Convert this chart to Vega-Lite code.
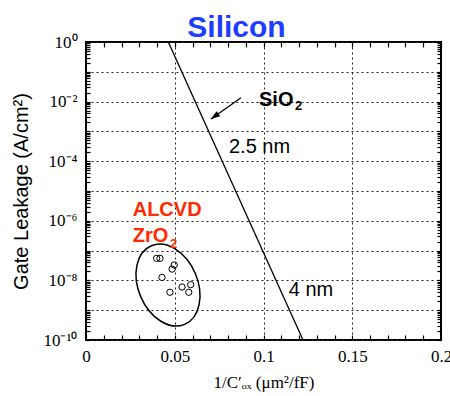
{
  "$schema": "https://vega.github.io/schema/vega-lite/v6.json",
  "width": 355,
  "height": 298,
  "autosize": "none",
  "padding": {"left": 86, "top": 42, "right": 9, "bottom": 56},
  "background": "white",
  "config": {"view": {"stroke": "#000", "strokeWidth": 2}},
  "title": {"text": "Silicon", "font": "Liberation Sans", "fontSize": 30, "fontWeight": "bold", "color": "#1f3dff", "anchor": "middle", "dx": -27, "offset": -10},
  "datasets": {
    "sio2": [{"x": 0.04637, "y": 1}, {"x": 0.12225, "y": 1e-10}],
    "zro2": [
      {"x": 0.0398, "y": 5.5e-8}, {"x": 0.0417, "y": 5.5e-8}, {"x": 0.0497, "y": 3.3e-8},
      {"x": 0.0485, "y": 2.4e-8}, {"x": 0.0428, "y": 1.26e-8}, {"x": 0.0473, "y": 4e-9},
      {"x": 0.0541, "y": 6e-9}, {"x": 0.059, "y": 7.2e-9}, {"x": 0.0579, "y": 4e-9}
    ],
    "ellipse": [{"x": 0.0462, "y": 7e-9}],
    "arrow": [{"x": 0.0873, "y": 1.35e-2, "x2": 0.0704, "y2": 2.6e-3}],
    "blackBig": [{"x": 0.09746, "y": 7.11e-3, "label": "SiO"}],
    "blackSub": [{"x": 0.11775, "y": 5.22e-3, "label": "2"}],
    "blackReg": [{"x": 0.08056, "y": 1.84e-4, "label": "2.5 nm"}, {"x": 0.1142, "y": 3.07e-9, "label": "4 nm"}],
    "redBig": [{"x": 0.0263, "y": 1.48e-6, "label": "ALCVD"}, {"x": 0.0263, "y": 1.99e-7, "label": "ZrO"}],
    "redSub": [{"x": 0.04732, "y": 1.22e-7, "label": "2"}]
  },
  "layer": [
    {
      "data": {"name": "sio2"},
      "mark": {"type": "line", "color": "#000", "strokeWidth": 1.3},
      "encoding": {
        "x": {
          "field": "x", "type": "quantitative",
          "scale": {"domain": [0, 0.2], "nice": false, "zero": false},
          "axis": {
            "orient": "bottom",
            "values": [0, 0.01, 0.02, 0.03, 0.04, 0.05, 0.06, 0.07, 0.08, 0.09, 0.1, 0.11, 0.12, 0.13, 0.14, 0.15, 0.16, 0.17, 0.18, 0.19, 0.2],
            "labelExpr": "indexof(['0','0.05','0.1','0.15','0.2'], format(datum.value, '.2~f')) >= 0 ? format(datum.value, '.2~f') : ''",
            "domain": false,
            "tickSize": -5, "tickColor": "#000", "tickWidth": 1.2,
            "labelFont": "Liberation Serif", "labelFontSize": 17, "labelColor": "#000", "labelPadding": 13,
            "labelFlush": false, "labelOverlap": false,
            "grid": true, "gridColor": "#222", "gridDash": [2, 3], "gridWidth": 1,
            "gridOpacity": {"condition": {"test": "abs(datum.value*20 - round(datum.value*20)) < 0.001 && datum.value > 0.001 && datum.value < 0.199", "value": 1}, "value": 0},
            "title": "1/C′ₒₓ (μm²/fF)",
            "titleFont": "Liberation Serif", "titleFontSize": 17, "titleFontWeight": "normal", "titleColor": "#000", "titlePadding": 10
          }
        },
        "y": {
          "field": "y", "type": "quantitative",
          "scale": {"type": "log", "domain": [1e-10, 1], "nice": false},
          "axis": {
            "orient": "left",
            "values": [1e-10, 2e-10, 3e-10, 4e-10, 5e-10, 6e-10, 7e-10, 8e-10, 9e-10,
                       1e-9, 2e-9, 3e-9, 4e-9, 5e-9, 6e-9, 7e-9, 8e-9, 9e-9,
                       1e-8, 2e-8, 3e-8, 4e-8, 5e-8, 6e-8, 7e-8, 8e-8, 9e-8,
                       1e-7, 2e-7, 3e-7, 4e-7, 5e-7, 6e-7, 7e-7, 8e-7, 9e-7,
                       1e-6, 2e-6, 3e-6, 4e-6, 5e-6, 6e-6, 7e-6, 8e-6, 9e-6,
                       1e-5, 2e-5, 3e-5, 4e-5, 5e-5, 6e-5, 7e-5, 8e-5, 9e-5,
                       1e-4, 2e-4, 3e-4, 4e-4, 5e-4, 6e-4, 7e-4, 8e-4, 9e-4,
                       1e-3, 2e-3, 3e-3, 4e-3, 5e-3, 6e-3, 7e-3, 8e-3, 9e-3,
                       1e-2, 2e-2, 3e-2, 4e-2, 5e-2, 6e-2, 7e-2, 8e-2, 9e-2,
                       1e-1, 2e-1, 3e-1, 4e-1, 5e-1, 6e-1, 7e-1, 8e-1, 9e-1, 1],
            "labelExpr": "abs(log(datum.value)/LN10 - round(log(datum.value)/LN10)) < 0.001 ? (round(log(datum.value)/LN10) == 0 ? '10⁰' : round(log(datum.value)/LN10) == -2 ? '10⁻²' : round(log(datum.value)/LN10) == -4 ? '10⁻⁴' : round(log(datum.value)/LN10) == -6 ? '10⁻⁶' : round(log(datum.value)/LN10) == -8 ? '10⁻⁸' : round(log(datum.value)/LN10) == -10 ? '10⁻¹⁰' : '') : ''",
            "domain": false,
            "tickSize": -4, "tickColor": "#000", "tickWidth": 1.2,
            "labelFont": "Liberation Serif", "labelFontSize": 17, "labelColor": "#000", "labelPadding": 13,
            "labelFlush": false, "labelOverlap": false,
            "grid": true, "gridColor": "#222", "gridDash": [2, 3], "gridWidth": 1,
            "gridOpacity": {"condition": {"test": "abs(log(datum.value)/LN10 - round(log(datum.value)/LN10)) < 0.001", "value": 1}, "value": 0},
            "title": "Gate Leakage (A/cm²)",
            "titleFont": "Liberation Sans", "titleFontSize": 20, "titleFontWeight": "normal", "titleColor": "#000", "titlePadding": 11
          }
        }
      }
    },
    {
      "data": {"name": "zro2"},
      "mark": {"type": "point", "shape": "circle", "filled": false, "color": "#000", "size": 40, "strokeWidth": 1, "opacity": 1},
      "encoding": {
        "x": {
          "field": "x", "type": "quantitative",
          "axis": {
            "orient": "top",
            "values": [0, 0.01, 0.02, 0.03, 0.04, 0.05, 0.06, 0.07, 0.08, 0.09, 0.1, 0.11, 0.12, 0.13, 0.14, 0.15, 0.16, 0.17, 0.18, 0.19, 0.2],
            "labels": false, "domain": false, "grid": false, "title": null,
            "tickSize": -5, "tickColor": "#000", "tickWidth": 1.2
          }
        },
        "y": {
          "field": "y", "type": "quantitative",
          "axis": {
            "orient": "right",
            "values": [1e-10, 2e-10, 3e-10, 4e-10, 5e-10, 6e-10, 7e-10, 8e-10, 9e-10,
                       1e-9, 2e-9, 3e-9, 4e-9, 5e-9, 6e-9, 7e-9, 8e-9, 9e-9,
                       1e-8, 2e-8, 3e-8, 4e-8, 5e-8, 6e-8, 7e-8, 8e-8, 9e-8,
                       1e-7, 2e-7, 3e-7, 4e-7, 5e-7, 6e-7, 7e-7, 8e-7, 9e-7,
                       1e-6, 2e-6, 3e-6, 4e-6, 5e-6, 6e-6, 7e-6, 8e-6, 9e-6,
                       1e-5, 2e-5, 3e-5, 4e-5, 5e-5, 6e-5, 7e-5, 8e-5, 9e-5,
                       1e-4, 2e-4, 3e-4, 4e-4, 5e-4, 6e-4, 7e-4, 8e-4, 9e-4,
                       1e-3, 2e-3, 3e-3, 4e-3, 5e-3, 6e-3, 7e-3, 8e-3, 9e-3,
                       1e-2, 2e-2, 3e-2, 4e-2, 5e-2, 6e-2, 7e-2, 8e-2, 9e-2,
                       1e-1, 2e-1, 3e-1, 4e-1, 5e-1, 6e-1, 7e-1, 8e-1, 9e-1, 1],
            "labels": false, "domain": false, "grid": false, "title": null,
            "tickSize": -4, "tickColor": "#000", "tickWidth": 1.2
          }
        }
      }
    },
    {
      "data": {"name": "ellipse"},
      "mark": {"type": "point", "shape": "M 0 -1 A 0.695 1 0 1 1 0 1 A 0.695 1 0 1 1 0 -1 Z", "filled": false, "color": "#000", "strokeWidth": 1.5, "size": 7293, "angle": 337, "opacity": 1},
      "encoding": {
        "x": {"field": "x", "type": "quantitative", "axis": null},
        "y": {"field": "y", "type": "quantitative", "axis": null}
      }
    },
    {
      "data": {"name": "arrow"},
      "mark": {"type": "rule", "color": "#000", "strokeWidth": 1.3},
      "encoding": {
        "x": {"field": "x", "type": "quantitative", "axis": null},
        "y": {"field": "y", "type": "quantitative", "axis": null},
        "x2": {"field": "x2"},
        "y2": {"field": "y2"}
      }
    },
    {
      "data": {"name": "arrow"},
      "mark": {"type": "point", "shape": "M 0 0 L -0.45 1.3 L 0.45 1.3 Z", "filled": true, "color": "#000", "size": 196, "angle": 234.6, "opacity": 1},
      "encoding": {
        "x": {"field": "x2", "type": "quantitative", "axis": null},
        "y": {"field": "y2", "type": "quantitative", "axis": null}
      }
    },
    {
      "data": {"name": "blackBig"},
      "mark": {"type": "text", "font": "Liberation Sans", "fontSize": 20, "fontWeight": "bold", "color": "#000", "align": "left", "baseline": "alphabetic"},
      "encoding": {
        "x": {"field": "x", "type": "quantitative", "axis": null},
        "y": {"field": "y", "type": "quantitative", "axis": null},
        "text": {"field": "label"}
      }
    },
    {
      "data": {"name": "blackSub"},
      "mark": {"type": "text", "font": "Liberation Sans", "fontSize": 13, "fontWeight": "bold", "color": "#000", "align": "left", "baseline": "alphabetic"},
      "encoding": {
        "x": {"field": "x", "type": "quantitative", "axis": null},
        "y": {"field": "y", "type": "quantitative", "axis": null},
        "text": {"field": "label"}
      }
    },
    {
      "data": {"name": "blackReg"},
      "mark": {"type": "text", "font": "Liberation Sans", "fontSize": 20, "fontWeight": "normal", "color": "#000", "align": "left", "baseline": "alphabetic"},
      "encoding": {
        "x": {"field": "x", "type": "quantitative", "axis": null},
        "y": {"field": "y", "type": "quantitative", "axis": null},
        "text": {"field": "label"}
      }
    },
    {
      "data": {"name": "redBig"},
      "mark": {"type": "text", "font": "Liberation Sans", "fontSize": 20, "fontWeight": "bold", "color": "#ff2a00", "align": "left", "baseline": "alphabetic"},
      "encoding": {
        "x": {"field": "x", "type": "quantitative", "axis": null},
        "y": {"field": "y", "type": "quantitative", "axis": null},
        "text": {"field": "label"}
      }
    },
    {
      "data": {"name": "redSub"},
      "mark": {"type": "text", "font": "Liberation Sans", "fontSize": 13, "fontWeight": "bold", "color": "#ff2a00", "align": "left", "baseline": "alphabetic"},
      "encoding": {
        "x": {"field": "x", "type": "quantitative", "axis": null},
        "y": {"field": "y", "type": "quantitative", "axis": null},
        "text": {"field": "label"}
      }
    }
  ],
  "resolve": {"axis": {"x": "independent", "y": "independent"}}
}
